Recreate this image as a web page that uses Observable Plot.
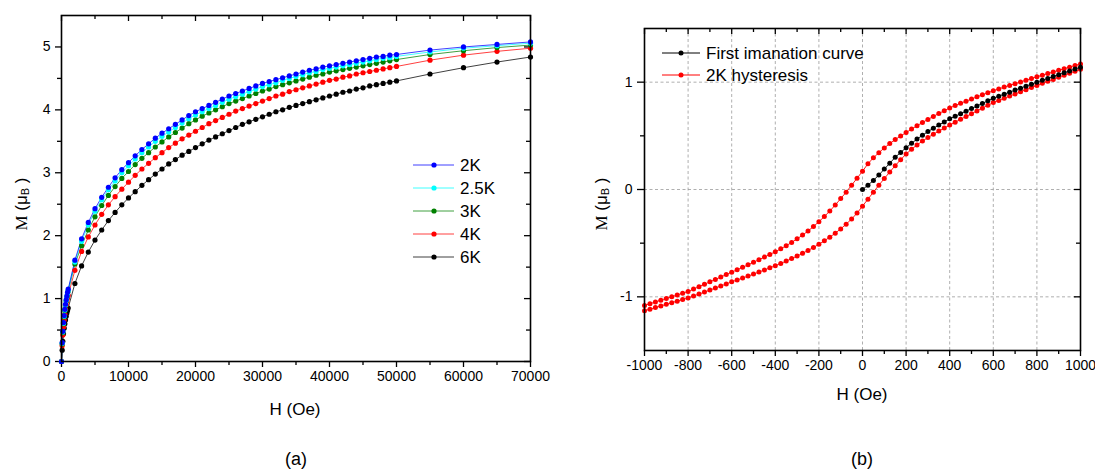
<!DOCTYPE html>
<html><head><meta charset="utf-8">
<script src="https://cdn.jsdelivr.net/npm/d3@7"></script>
<script src="https://cdn.jsdelivr.net/npm/@observablehq/plot@0.6"></script>
<style>
body{margin:0;background:#fff;}
#wrap{position:relative;width:1095px;height:471px;overflow:hidden;font-family:"Liberation Sans",Arial,sans-serif;}
#wrap > div.panel{position:absolute;top:0;}
</style></head><body><div id="wrap"></div>
<script>
// ---------- Panel (a): M(H) at several temperatures ----------
const fieldA = [0,100,200,300,400,500,600,700,800,900,1000,
  2000,3000,4000,5000,6000,7000,8000,9000,10000,11000,12000,13000,14000,15000,16000,17000,18000,19000,20000,
  21000,22000,23000,24000,25000,26000,27000,28000,29000,30000,31000,32000,33000,34000,35000,36000,37000,38000,39000,40000,
  41000,42000,43000,44000,45000,46000,47000,48000,49000,50000,55000,60000,65000,70000];
const m2K = [0,0.30,0.48,0.62,0.73,0.83,0.91,0.98,1.04,1.10,1.15,
  1.61,1.95,2.21,2.43,2.61,2.77,2.92,3.05,3.16,3.27,3.37,3.46,3.55,3.63,3.70,3.77,3.84,3.91,3.97,
  4.02,4.07,4.12,4.17,4.22,4.26,4.30,4.34,4.38,4.42,4.45,4.48,4.51,4.54,4.57,4.60,4.63,4.65,4.68,4.70,
  4.72,4.74,4.76,4.78,4.80,4.82,4.84,4.85,4.87,4.88,4.95,5.00,5.04,5.08];
const m2p5K = [0,0.29,0.47,0.61,0.72,0.82,0.90,0.97,1.03,1.08,1.13,
  1.58,1.91,2.17,2.39,2.57,2.73,2.87,3.00,3.11,3.22,3.32,3.41,3.50,3.58,3.65,3.72,3.79,3.86,3.92,
  3.97,4.02,4.07,4.12,4.17,4.21,4.25,4.29,4.33,4.37,4.40,4.43,4.47,4.50,4.53,4.56,4.59,4.61,4.64,4.66,
  4.68,4.70,4.72,4.74,4.76,4.78,4.80,4.82,4.83,4.85,4.92,4.98,5.02,5.06];
const m3K = [0,0.28,0.46,0.60,0.71,0.81,0.89,0.96,1.02,1.07,1.12,
  1.55,1.84,2.09,2.30,2.48,2.64,2.78,2.91,3.02,3.13,3.23,3.32,3.41,3.49,3.57,3.64,3.71,3.78,3.84,
  3.90,3.95,4.00,4.05,4.10,4.14,4.18,4.22,4.26,4.30,4.33,4.37,4.40,4.43,4.46,4.49,4.52,4.55,4.57,4.60,
  4.62,4.64,4.66,4.68,4.70,4.72,4.74,4.76,4.78,4.80,4.88,4.94,4.99,5.03];
const m4K = [0,0.25,0.42,0.55,0.66,0.75,0.83,0.90,0.96,1.01,1.05,
  1.45,1.75,1.98,2.17,2.34,2.49,2.62,2.74,2.85,2.96,3.06,3.15,3.24,3.32,3.40,3.47,3.54,3.60,3.66,
  3.72,3.78,3.83,3.88,3.93,3.98,4.02,4.06,4.10,4.14,4.18,4.22,4.25,4.29,4.32,4.35,4.38,4.41,4.44,4.47,
  4.49,4.52,4.54,4.57,4.59,4.61,4.63,4.65,4.67,4.69,4.79,4.87,4.93,4.98];
const m6K = [0,0.18,0.32,0.44,0.53,0.60,0.66,0.72,0.77,0.81,0.85,
  1.24,1.52,1.74,1.93,2.09,2.24,2.37,2.49,2.60,2.70,2.80,2.89,2.98,3.06,3.14,3.21,3.28,3.34,3.40,
  3.46,3.52,3.57,3.62,3.67,3.72,3.77,3.81,3.85,3.89,3.93,3.97,4.00,4.04,4.07,4.10,4.13,4.16,4.19,4.22,
  4.25,4.28,4.30,4.33,4.35,4.38,4.40,4.42,4.44,4.46,4.57,4.67,4.76,4.84];
const tempLabels = ["2K","2.5K","3K","4K","6K"];
const tempColors = ["#0000ff","#00ffff","#008000","#ff0000","#000000"];
const xMajorA = [0,10000,20000,30000,40000,50000,60000,70000];
const xMinorA = [5000,15000,25000,35000,45000,55000,65000];
const yMajorA = [0,1,2,3,4,5];
const yMinorA = [0.5,1.5,2.5,3.5,4.5];

// ---------- Panel (b): hysteresis at 2K ----------
const fieldB = [-1000,-975,-950,-925,-900,-875,-850,-825,-800,-775,-750,-725,-700,-675,-650,-625,-600,
  -575,-550,-525,-500,-475,-450,-425,-400,-375,-350,-325,-300,-275,-250,-225,-200,
  -175,-150,-125,-100,-75,-50,-25,0,25,50,75,100,125,150,175,200,
  225,250,275,300,325,350,375,400,425,450,475,500,525,550,575,600,
  625,650,675,700,725,750,775,800,825,850,875,900,925,950,975,1000];
const mUpper = [-1.080,-1.064,-1.048,-1.031,-1.015,-0.999,-0.983,-0.966,-0.950,
  -0.928,-0.905,-0.883,-0.860,-0.838,-0.815,-0.793,-0.770,
  -0.748,-0.725,-0.702,-0.678,-0.654,-0.630,-0.605,-0.580,
  -0.553,-0.524,-0.493,-0.460,-0.425,-0.387,-0.345,-0.300,
  -0.252,-0.200,-0.145,-0.085,-0.025,0.040,0.105,0.170,
  0.240,0.295,0.343,0.387,0.428,0.465,0.499,0.530,
  0.563,0.594,0.624,0.653,0.681,0.708,0.734,0.760,
  0.782,0.803,0.823,0.843,0.863,0.882,0.901,0.920,
  0.937,0.954,0.970,0.986,1.002,1.018,1.034,1.050,
  1.065,1.080,1.095,1.110,1.125,1.140,1.155,1.170];
const mLower = [-1.130,-1.115,-1.100,-1.085,-1.070,-1.055,-1.040,-1.025,-1.010,
  -0.992,-0.974,-0.956,-0.937,-0.918,-0.899,-0.880,-0.860,
  -0.843,-0.825,-0.807,-0.788,-0.769,-0.750,-0.730,-0.710,
  -0.689,-0.667,-0.644,-0.620,-0.595,-0.568,-0.540,-0.510,
  -0.478,-0.444,-0.407,-0.367,-0.323,-0.275,-0.220,-0.155,
  -0.090,-0.025,0.040,0.102,0.163,0.222,0.278,0.330,
  0.375,0.415,0.451,0.484,0.515,0.544,0.572,0.600,
  0.627,0.654,0.680,0.706,0.732,0.758,0.784,0.810,
  0.830,0.850,0.870,0.890,0.910,0.930,0.950,0.970,
  0.989,1.008,1.026,1.045,1.064,1.083,1.101,1.120];
const fieldFirst = [0,25,50,75,100,125,150,175,200,225,250,275,300,325,350,375,400,
  425,450,475,500,525,550,575,600,625,650,675,700,725,750,775,800,825,850,875,900,925,950,975,1000];
const mFirst = [0.000,0.040,0.085,0.135,0.190,0.245,0.300,0.345,0.390,
  0.430,0.470,0.505,0.540,0.570,0.600,0.630,0.658,
  0.682,0.706,0.730,0.754,0.778,0.802,0.826,0.850,
  0.869,0.888,0.907,0.926,0.944,0.963,0.981,1.000,
  1.018,1.035,1.053,1.070,1.088,1.105,1.123,1.140];
const curveLabels = ["First imanation curve","2K hysteresis"];
const curveColors = ["#000000","#ff0000"];
const xMajorB = [-1000,-800,-600,-400,-200,0,200,400,600,800,1000];
const xMinorB = [-900,-700,-500,-300,-100,100,300,500,700,900];
const gridXB = [-800,-600,-400,-200,0,200,400,600,800];
const yMajorB = [-1,0,1];
const yMinorB = [-0.5,0.5];
const gridYB = [-1,0,1];

// ---------- build tables ----------
const seriesA = [m2K,m2p5K,m3K,m4K,m6K];
const rowsA = [];
for (let s = seriesA.length - 1; s >= 0; s--) {
  seriesA[s].forEach((m, i) => { if (fieldA[i] !== undefined) rowsA.push({H: fieldA[i], M: m, T: tempLabels[s]}); });
}
const upperRows = fieldB.map((h, i) => ({H: h, M: mUpper[i]})).reverse();
const lowerRows = fieldB.map((h, i) => ({H: h, M: mLower[i]}));
const firstRows = fieldFirst.map((h, i) => ({H: h, M: mFirst[i]}));

const font = "Liberation Sans, Arial, sans-serif";
const wrap = document.getElementById("wrap");

// Panel (a)
const WA = 545, HA = 420, mlA = 61, mrA = 15, mtA = 15, mbA = 59;
const fwA = WA - mlA - mrA, fhA = HA - mtA - mbA;
const plotA = Plot.plot({
  width: WA, height: HA, marginLeft: mlA, marginRight: mrA, marginTop: mtA, marginBottom: mbA,
  style: {fontFamily: font, fontSize: "14px", color: "#000", background: "transparent", overflow: "visible"},
  x: {domain: [0, 70000], axis: null},
  y: {domain: [0, 5.5], axis: null},
  color: {domain: tempLabels, range: tempColors},
  marks: [
    Plot.axisX({ticks: xMajorA, tickSize: 6, tickPadding: 4, tickFormat: d => String(d), label: null, fontSize: 14, strokeWidth: 1.3}),
    Plot.axisX({ticks: xMinorA, tickSize: 4, tickFormat: () => "", label: null, strokeWidth: 1.3}),
    Plot.axisY({ticks: yMajorA, tickSize: 6, tickPadding: 5, tickFormat: d => String(d), label: null, fontSize: 14, strokeWidth: 1.3}),
    Plot.axisY({ticks: yMinorA, tickSize: 4, tickFormat: () => "", label: null, strokeWidth: 1.3}),
    Plot.tickX(xMajorA, {x: d => d, insetBottom: fhA - 6, stroke: "#000", strokeWidth: 1.3}),
    Plot.tickX(xMinorA, {x: d => d, insetBottom: fhA - 4, stroke: "#000", strokeWidth: 1.3}),
    Plot.tickY(yMajorA, {y: d => d, insetLeft: fwA - 6, stroke: "#000", strokeWidth: 1.3}),
    Plot.tickY(yMinorA, {y: d => d, insetLeft: fwA - 4, stroke: "#000", strokeWidth: 1.3}),
    Plot.line(rowsA, {x: "H", y: "M", z: "T", stroke: "T", strokeWidth: 1, strokeOpacity: 0.75}),
    Plot.dot(rowsA, {x: "H", y: "M", fill: "T", r: 2.6, stroke: "none"}),
    Plot.frame({stroke: "#000", strokeWidth: 1.6})
  ]
});
const divA = document.createElement("div");
divA.className = "panel"; divA.style.left = "0px";
divA.appendChild(plotA); wrap.appendChild(divA);

// Panel (b)
const WB = 535, HB = 420, mlB = 84, mrB = 15, mtB = 28, mbB = 70;
const fwB = WB - mlB - mrB, fhB = HB - mtB - mbB;
const plotB = Plot.plot({
  width: WB, height: HB, marginLeft: mlB, marginRight: mrB, marginTop: mtB, marginBottom: mbB,
  style: {fontFamily: font, fontSize: "14px", color: "#000", background: "transparent", overflow: "visible"},
  x: {domain: [-1000, 1000], axis: null},
  y: {domain: [-1.5, 1.5], axis: null},
  marks: [
    Plot.ruleX(gridXB, {x: d => d, stroke: "#9a9a9a", strokeWidth: 0.8, strokeDasharray: "3,2.5"}),
    Plot.ruleY(gridYB, {y: d => d, stroke: "#9a9a9a", strokeWidth: 0.8, strokeDasharray: "3,2.5"}),
    Plot.axisX({ticks: xMajorB, tickSize: 6, tickPadding: 4, tickFormat: d => String(d), label: null, fontSize: 14, strokeWidth: 1.3}),
    Plot.axisX({ticks: xMinorB, tickSize: 4, tickFormat: () => "", label: null, strokeWidth: 1.3}),
    Plot.axisY({ticks: yMajorB, tickSize: 7, tickPadding: 5, tickFormat: d => String(d), label: null, fontSize: 14, strokeWidth: 1.3}),
    Plot.axisY({ticks: yMinorB, tickSize: 4, tickFormat: () => "", label: null, strokeWidth: 1.3}),
    Plot.tickX(xMajorB, {x: d => d, insetBottom: fhB - 6, stroke: "#000", strokeWidth: 1.3}),
    Plot.tickX(xMinorB, {x: d => d, insetBottom: fhB - 4, stroke: "#000", strokeWidth: 1.3}),
    Plot.tickY(yMajorB, {y: d => d, insetLeft: fwB - 6, stroke: "#000", strokeWidth: 1.3}),
    Plot.tickY(yMinorB, {y: d => d, insetLeft: fwB - 4, stroke: "#000", strokeWidth: 1.3}),
    Plot.line(lowerRows, {x: "H", y: "M", stroke: curveColors[1], strokeWidth: 0.9}),
    Plot.line(upperRows, {x: "H", y: "M", stroke: curveColors[1], strokeWidth: 0.9}),
    Plot.dot(lowerRows, {x: "H", y: "M", fill: curveColors[1], r: 2.5, stroke: "none"}),
    Plot.dot(upperRows, {x: "H", y: "M", fill: curveColors[1], r: 2.5, stroke: "none"}),
    Plot.line(firstRows, {x: "H", y: "M", stroke: curveColors[0], strokeWidth: 0.9}),
    Plot.dot(firstRows, {x: "H", y: "M", fill: curveColors[0], r: 2.5, stroke: "none"}),
    Plot.frame({stroke: "#000", strokeWidth: 1.6})
  ]
});
const divB = document.createElement("div");
divB.className = "panel"; divB.style.left = "560px";
divB.appendChild(plotB); wrap.appendChild(divB);

// ---------- overlay: axis titles, legends, captions ----------
const ov = d3.select(wrap).append("svg")
  .attr("width", 1095).attr("height", 471)
  .style("position", "absolute").style("left", "0px").style("top", "0px")
  .style("pointer-events", "none")
  .attr("font-family", font).attr("fill", "#000");

function yTitle(cx, cy) {
  const t = ov.append("text").attr("transform", `translate(${cx},${cy}) rotate(-90)`)
    .attr("text-anchor", "middle").attr("dominant-baseline", "central").attr("font-size", 17);
  t.append("tspan").attr("font-family", "Liberation Serif, Times New Roman, serif").text("M");
  t.append("tspan").text(" (\u03bc");
  t.append("tspan").attr("font-size", 11).attr("dy", 4).text("B");
  t.append("tspan").attr("dy", -4).text(" )");
}
yTitle(21, 204);
yTitle(601, 204);

ov.append("text").attr("x", 295).attr("y", 415).attr("text-anchor", "middle").attr("font-size", 17).text("H (Oe)");
ov.append("text").attr("x", 862).attr("y", 400).attr("text-anchor", "middle").attr("font-size", 17).text("H (Oe)");
ov.append("text").attr("x", 296).attr("y", 465).attr("text-anchor", "middle").attr("font-size", 18).text("(a)");
ov.append("text").attr("x", 862).attr("y", 465).attr("text-anchor", "middle").attr("font-size", 18).text("(b)");

// legend (a)
tempLabels.forEach((lab, i) => {
  const y = 165 + i * 23;
  ov.append("line").attr("x1", 413).attr("x2", 454).attr("y1", y).attr("y2", y)
    .attr("stroke", tempColors[i]).attr("stroke-width", 1).attr("stroke-opacity", 0.75);
  ov.append("circle").attr("cx", 434).attr("cy", y).attr("r", 2.6).attr("fill", tempColors[i]);
  ov.append("text").attr("x", 460).attr("y", y).attr("dominant-baseline", "central").attr("font-size", 17).text(lab);
});
// legend (b)
curveLabels.forEach((lab, i) => {
  const y = 53 + i * 22;
  ov.append("line").attr("x1", 662).attr("x2", 700).attr("y1", y).attr("y2", y)
    .attr("stroke", curveColors[i]).attr("stroke-width", 1);
  ov.append("circle").attr("cx", 681).attr("cy", y).attr("r", 2.5).attr("fill", curveColors[i]);
  ov.append("text").attr("x", 706).attr("y", y).attr("dominant-baseline", "central").attr("font-size", 17).text(lab);
});
</script></body></html>
